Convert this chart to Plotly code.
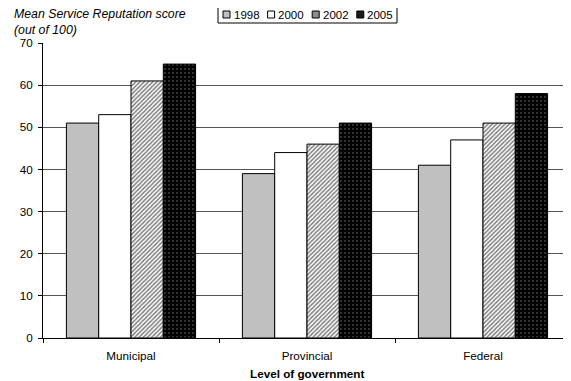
import plotly.graph_objects as go

categories = ["Municipal", "Provincial", "Federal"]
years = ["1998", "2000", "2002", "2005"]
v1998 = [51, 39, 41]
v2000 = [53, 44, 47]
v2002 = [61, 46, 51]
v2005 = [65, 51, 58]
series = [v1998, v2000, v2002, v2005]

styles = [
    dict(color="#c0c0c0", pattern=dict(shape=""), swatch="#c0c0c0"),
    dict(color="#ffffff", pattern=dict(shape=""), swatch="#ffffff"),
    dict(color="#ffffff", pattern=dict(shape="/", fgcolor="#000000", bgcolor="#ffffff", size=3, solidity=0.5), swatch="#8c8c8c"),
    dict(color="#000000", pattern=dict(shape=".", fgcolor="#ffffff", bgcolor="#000000", size=4, solidity=0.1), swatch="#1a1a1a"),
]

# the page body adds an 8px offset; size the figure so it fills the window
OFF = 8
W, H = 571 - OFF, 381 - OFF
ML, MR, MT, MB = 43 - OFF, 0, 43 - OFF, 381 - 338
PW, PH = W - ML - MR, H - MT - MB


def px2x(px):
    return (px - OFF - ML) / PW


def py2y(py):
    return (H - MB - (py - OFF)) / PH


fig = go.Figure()
for name, vals, st in zip(years, series, styles):
    fig.add_trace(go.Bar(
        x=categories, y=vals, name=name, showlegend=False,
        marker=dict(color=st["color"], pattern=st["pattern"],
                    line=dict(color="#000000", width=1)),
    ))

FONT = "Liberation Sans, Arial, sans-serif"

# compact legend (box, swatches, labels)
shapes = [dict(type="rect", xref="paper", yref="paper",
               x0=px2x(218), x1=px2x(397), y0=py2y(23), y1=py2y(6),
               line=dict(color="#000000", width=1), fillcolor="white", layer="above")]
annotations = []
for i, (name, st) in enumerate(zip(years, styles)):
    sx = 223 + 44.6 * i
    shapes.append(dict(type="rect", xref="paper", yref="paper",
                       x0=px2x(sx), x1=px2x(sx + 7), y0=py2y(18), y1=py2y(11),
                       line=dict(color="#000000", width=1), fillcolor=st["swatch"], layer="above"))
    annotations.append(dict(text=name, xref="paper", yref="paper", x=px2x(sx + 8.5), y=py2y(14.5),
                            xanchor="left", yanchor="middle", showarrow=False,
                            font=dict(size=11.5, family=FONT, color="#000000")))

annotations.append(dict(text="<i>Mean Service Reputation score<br>(out of 100)</i>",
                        xref="paper", yref="paper", x=px2x(12), y=py2y(5.5), xanchor="left", yanchor="top",
                        align="left", showarrow=False, font=dict(size=12.3, family=FONT, color="#000000")))
annotations.append(dict(text="<b>Level of government</b>",
                        xref="paper", yref="paper", x=0.5, y=py2y(373.5), xanchor="center", yanchor="middle",
                        showarrow=False, font=dict(size=11.7, family=FONT, color="#000000")))

fig.update_layout(
    width=W, height=H,
    margin=dict(l=ML, r=MR, t=MT, b=MB),
    paper_bgcolor="white", plot_bgcolor="white",
    barmode="group", bargap=0.266, bargroupgap=0,
    font=dict(family=FONT, size=11.7, color="#000000"),
    showlegend=False,
    xaxis=dict(range=[-0.5, 2.5], showline=True, linecolor="#000000", linewidth=1,
               ticks="outside", tickson="boundaries", ticklen=4, tickcolor="#000000",
               ticklabelstandoff=7,
               showgrid=False, zeroline=False, automargin=False),
    yaxis=dict(range=[0, 70], dtick=10, showline=True, linecolor="#000000", linewidth=1,
               ticks="outside", ticklen=4, tickcolor="#000000", automargin=False,
               ticklabelstandoff=3,
               showgrid=True, gridcolor="#555555", gridwidth=1, zeroline=False),
    shapes=shapes,
    annotations=annotations,
)

fig.write_html("out.html")
